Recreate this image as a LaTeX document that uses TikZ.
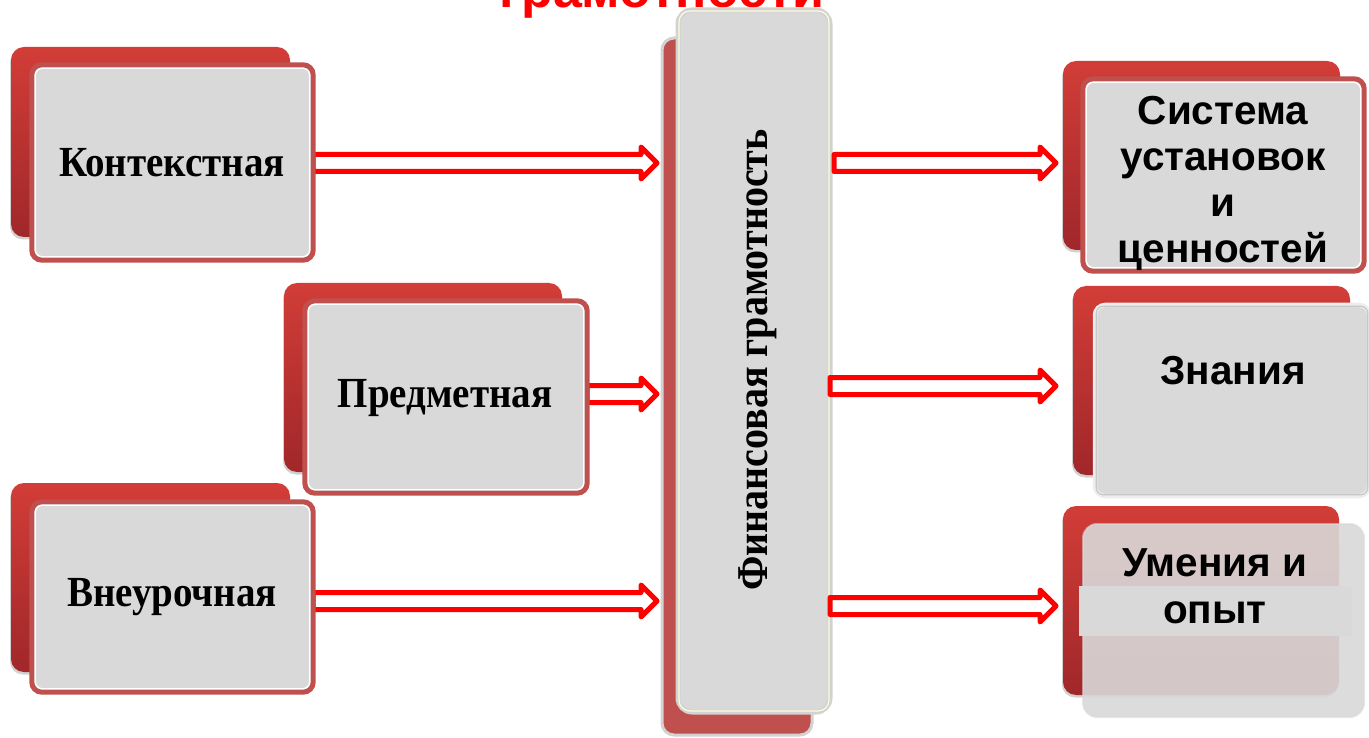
\documentclass[tikz,border=0pt]{standalone}
\usepackage{fontspec}
\setmainfont{Liberation Serif}
\newfontfamily\sansf{Liberation Sans}
\usetikzlibrary{fit,calc,shadows}
\definecolor{boxred}{HTML}{C0504D}
\definecolor{topred}{HTML}{D23D37}
\definecolor{botred}{HTML}{A0272A}
\definecolor{boxgray}{HTML}{D9D9D9}
\definecolor{lightline}{HTML}{D2D2D2}
\definecolor{arrred}{HTML}{FF0000}
\newcommand{\hollowarrow}[2]{%
  \draw[hollow] let \p1=(#1), \p2=(#2) in
  (\x1,\y2+8.5pt) -- (\x2-16pt,\y2+8.5pt) -- (\x2-16pt,\y2+16pt) -- (\x2,\y2)
  -- (\x2-16pt,\y2-16pt) -- (\x2-16pt,\y2-8.5pt) -- (\x1,\y2-8.5pt) -- cycle;}
\newcommand{\tall}[1]{\scalebox{1}[1.1]{#1}}
\begin{document}
\begin{tikzpicture}[x=1pt,y=-1pt,
  backbox/.style={rounded corners=13pt, top color=topred, bottom color=botred,
    draw=none, inner sep=0pt,
    drop shadow={shadow xshift=-1pt, shadow yshift=-2.5pt, opacity=0.18, fill=black}},
  frontbox/.style={rounded corners=10pt, fill=boxgray, inner sep=0pt},
  frontborder/.style={draw=boxred, line width=5pt, rounded corners=10pt},
  innerline/.style={draw=white, line width=1.3pt, rounded corners=7pt},
  hollow/.style={draw=arrred, fill=white, line width=5pt, line join=round},
  lefttext/.style={font=\fontsize{39}{44}\selectfont\bfseries, inner sep=0pt},
  righttext/.style={font=\sansf\fontsize{40.5}{46}\selectfont\bfseries, inner sep=0pt, align=center},
]
\useasboundingbox (0,0) rectangle (1369,738);
\fill[white] (0,0) rectangle (1369,738);

% title (cut off at the top, as in the reference)
\node[font=\sansf\fontsize{52}{60}\selectfont\bfseries, text=arrred, anchor=base, inner sep=0pt] (title) at (662,8) {грамотности};

% left boxes: backs
\node[backbox, fit={(11,47)(290,237)}] (kb) {};
\node[backbox, fit={(284,283)(562,472)}] (pb) {};
\node[backbox, fit={(11,483)(290,672)}] (vb) {};

% centre box
\node[fill=boxred, draw=lightline, line width=3pt, rounded corners=12pt, inner sep=0pt, fit={(662,38)(812,735)}] (cb) {};
\node[fill=boxgray, draw=lightline, line width=5pt, rounded corners=14pt, inner sep=0pt, fit={(678,10)(830,712)}] (c) {};
\draw[draw=white!85!yellow, line width=1.2pt, rounded corners=11pt] ([shift={(3.5pt,-3.5pt)}]c.north west) rectangle ([shift={(-3.5pt,3.5pt)}]c.south east);
\node[font=\fontsize{40}{44}\selectfont\bfseries, rotate=90, inner sep=0pt] (ct) at (758,360) {\tall{Финансовая грамотность}};

% arrows from the left
\coordinate (t1) at (657,163);
\coordinate (t2) at (657,394);
\coordinate (t3) at (657,601);
\coordinate (s1) at (313,163);
\coordinate (s2) at (587,394);
\coordinate (s3) at (313,601);
\hollowarrow{s1}{t1}
\hollowarrow{s2}{t2}
\hollowarrow{s3}{t3}

% left boxes: fronts
\node[frontbox, fit={(32,65)(313,260)}] (k) {};
\draw[frontborder] (k.north west) rectangle (k.south east);
\draw[innerline] ([shift={(3.5pt,-3.5pt)}]k.north west) rectangle ([shift={(-3.5pt,3.5pt)}]k.south east);
\node[lefttext] (kt) at (172,163) {\tall{Контекстная}};

\node[frontbox, fit={(305,301)(587,493)}] (p) {};
\draw[frontborder] (p.north west) rectangle (p.south east);
\draw[innerline] ([shift={(3.5pt,-3.5pt)}]p.north west) rectangle ([shift={(-3.5pt,3.5pt)}]p.south east);
\node[lefttext] (pt) at (445,398) {\tall{Предметная}};

\node[frontbox, fit={(32,502)(313,692)}] (v) {};
\draw[frontborder] (v.north west) rectangle (v.south east);
\draw[innerline] ([shift={(3.5pt,-3.5pt)}]v.north west) rectangle ([shift={(-3.5pt,3.5pt)}]v.south east);
\node[lefttext] (vt) at (172,597) {\tall{Внеурочная}};

% right boxes: backs
\node[backbox, fit={(1063,61)(1340,250)}] (r1b) {};
\node[backbox, fit={(1073,286)(1350,475)}] (r2b) {};
\node[backbox, fit={(1063,506)(1339,695)}] (r3b) {};

% right box 1
\node[frontbox, fit={(1083,79)(1364,271)}] (r1) {};
\draw[frontborder] (r1.north west) rectangle (r1.south east);
\draw[innerline] ([shift={(3.5pt,-3.5pt)}]r1.north west) rectangle ([shift={(-3.5pt,3.5pt)}]r1.south east);
\node[righttext, anchor=north] (r1t) at (1223,96) {Система\\установок\\и\\ценностей};

% right box 2
\node[fill=boxgray, draw=white!93!black, line width=4.5pt, rounded corners=10pt, inner sep=0pt, fit={(1095,305)(1369,496)}] (r2) {};
\draw[draw=black!22, line width=1.2pt, rounded corners=7pt] ([shift={(3.5pt,-3.5pt)}]r2.north west) rectangle ([shift={(-3.5pt,3.5pt)}]r2.south east);
\node[righttext] (r2t) at (1233,371) {Знания};

% right box 3
\node[fill=boxgray, fill opacity=0.9, draw=black!15, draw opacity=0.6, line width=2pt, rounded corners=14pt, inner sep=0pt, fit={(1083,524)(1364,717)}] (r3) {};
\node[fill=boxgray, inner sep=0pt, fit={(1079,586)(1352,636)}] (r3band) {};
\node[righttext] (r3a) at (1215,563) {Умения и};
\node[righttext] (r3c) at (1215,613) {опыт};

% arrows to the right
\coordinate (u1) at (1056,163);
\coordinate (u2) at (1056,386);
\coordinate (u3) at (1056,606);
\coordinate (w1) at (834,163);
\coordinate (w2) at (830,386);
\coordinate (w3) at (830,606);
\hollowarrow{w1}{u1}
\hollowarrow{w2}{u2}
\hollowarrow{w3}{u3}
\end{tikzpicture}
\end{document}
